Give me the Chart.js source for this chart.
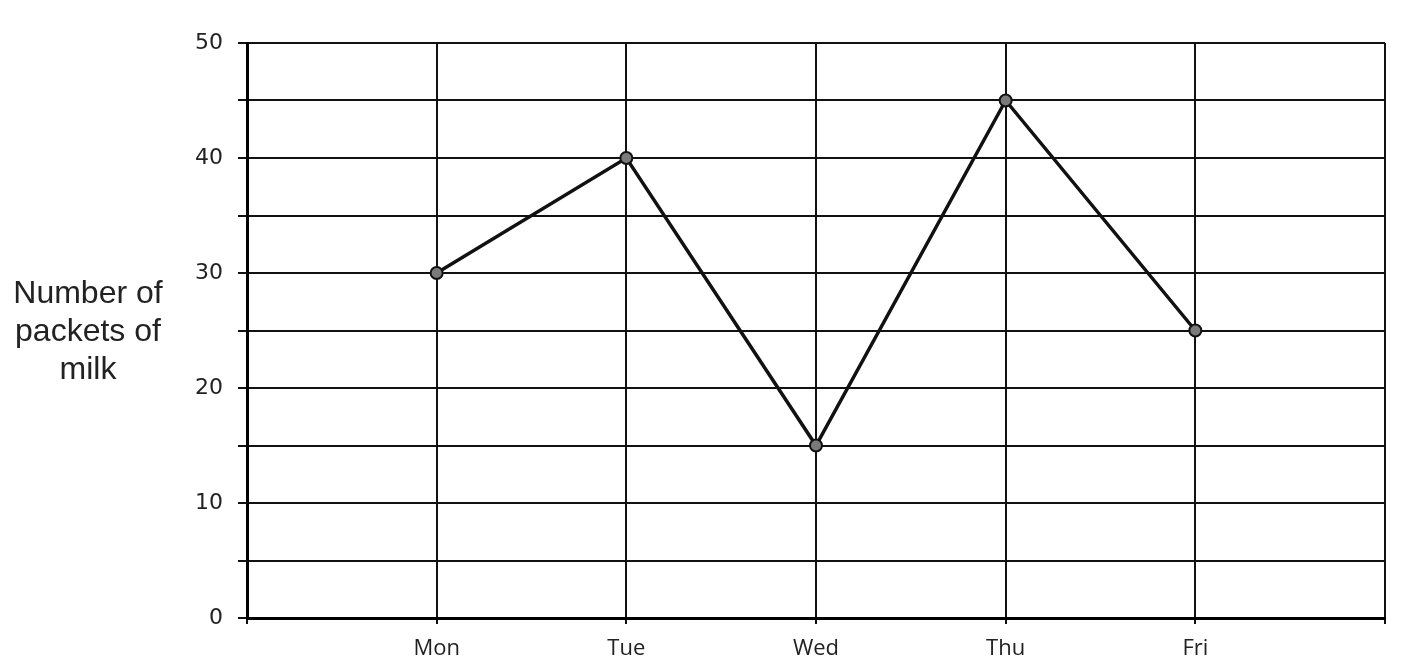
<!DOCTYPE html>
<html>
<head>
<meta charset="utf-8">
<title>Packets of milk</title>
<script src="https://cdn.jsdelivr.net/npm/chart.js@4.4.1/dist/chart.umd.min.js"></script>
<style>
    html, body { margin: 0; padding: 0; background: #fff; }
    .chart-wrap { position: relative; width: 1407px; height: 658px; }
    .y-title {
        position: absolute;
        left: 0;
        top: 273px;
        width: 176px;
        text-align: center;
        font-family: "Liberation Sans", Arial, sans-serif;
        font-size: 32px;
        line-height: 38px;
        color: #222;
    }
</style>
</head>
<body>
<div class="chart-wrap">
    <canvas id="milkChart"></canvas>
    <div class="y-title">Number of<br>packets of<br>milk</div>
</div>
<script>
// Chart data
const days = ['Mon', 'Tue', 'Wed', 'Thu', 'Fri'];
const packets = [30, 40, 15, 45, 25];
const yTicks = [0, 10, 20, 30, 40, 50];

// empty slots at both ends so the days sit on the inner gridlines
const labels = [''].concat(days, ['']);
const values = [null].concat(packets, [null]);

document.addEventListener('DOMContentLoaded', function() {
    const ctx = document.getElementById('milkChart').getContext('2d');
    new Chart(ctx, {
        type: 'line',
        data: {
            labels: labels,
            datasets: [{
                label: 'Number of packets of milk',
                data: values,
                borderColor: '#111',
                borderWidth: 3.5,
                tension: 0,
                pointRadius: 6,
                pointBackgroundColor: '#7a7a7a',
                pointBorderColor: '#111',
                pointBorderWidth: 2,
                spanGaps: false
            }]
        },
        options: {
            responsive: true,
            maintainAspectRatio: false,
            animation: false,
            layout: {
                padding: { top: 43, right: 22, bottom: 0, left: 0 }
            },
            plugins: {
                legend: { display: false },
                tooltip: { enabled: false }
            },
            scales: {
                x: {
                    offset: false,
                    grid: {
                        color: '#111',
                        lineWidth: 2,
                        tickLength: 6
                    },
                    border: { color: '#000', width: 3 },
                    ticks: {
                        color: '#222',
                        padding: 12,
                        maxRotation: 0,
                        autoSkip: false,
                        font: { family: '"Open Sans", sans-serif', size: 22 }
                    },
                    afterFit: function(scale) {
                        scale.height = 40;
                    }
                },
                y: {
                    min: yTicks[0],
                    max: yTicks[yTicks.length - 1],
                    grid: {
                        color: '#111',
                        lineWidth: 2,
                        tickLength: 9
                    },
                    border: { color: '#000', width: 3 },
                    ticks: {
                        stepSize: 5,
                        color: '#222',
                        padding: 15,
                        font: { family: '"DejaVu Sans", sans-serif', size: 22 },
                        callback: function(value) {
                            return yTicks.includes(value) ? value : '';
                        }
                    },
                    afterFit: function(scale) {
                        scale.width = 247;
                    }
                }
            }
        }
    });
});
</script>
</body>
</html>
